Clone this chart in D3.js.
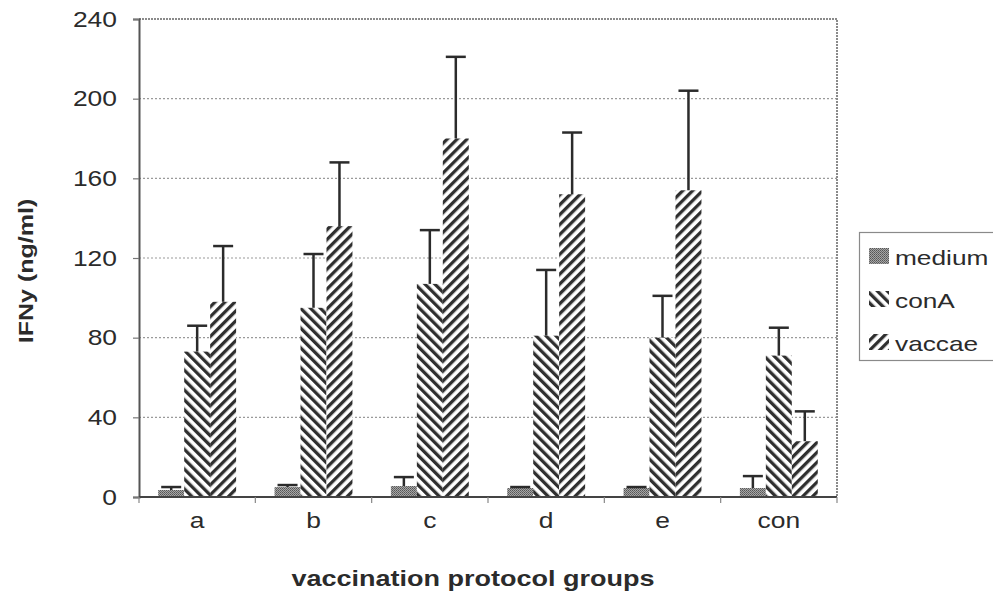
<!DOCTYPE html>
<html>
<head>
<meta charset="utf-8">
<script src="https://cdn.jsdelivr.net/npm/d3@7"></script>
<style>
  html, body { margin: 0; padding: 0; background: #fff; }
  svg { display: block; font-family: "Liberation Sans", Arial, Helvetica, sans-serif; }
</style>
</head>
<body>
<svg id="chart" width="993" height="595"></svg>
<script>
// IFN-gamma response per vaccination protocol group (mean + SD)
const groups = ["a", "b", "c", "d", "e", "con"];
const series = ["medium", "conA", "vaccae"];
const medium    = [3.5, 5, 5.5, 4.5, 4.5, 4.5];
const mediumErr = [1.5, 1, 4.5, 0.5, 0.5, 6];
const conA      = [73, 95, 107, 81, 80, 71];
const conAErr   = [13, 27, 27, 33, 21, 14];
const vaccae    = [98, 136, 180, 152, 154, 28];
const vaccaeErr = [28, 32, 41, 31, 50, 15];
const yTicks = [0, 40, 80, 120, 160, 200, 240];

const values = { medium, conA, vaccae };
const errors = { medium: mediumErr, conA: conAErr, vaccae: vaccaeErr };

const rows = groups.flatMap((g, i) =>
  series.map(s => ({ group: g, series: s, value: values[s][i], err: errors[s][i] })));

const svg = d3.select("#chart");
const plot = { left: 139, right: 837, top: 19, bottom: 497 };
const ink = "#2b2b2b";

// widen glyphs horizontally by a factor (the typeface is broader than Liberation Sans)
function widen(sel, factor) {
  sel.each(function () {
    const w = this.getComputedTextLength();
    d3.select(this).attr("textLength", w * factor).attr("lengthAdjust", "spacingAndGlyphs");
  });
}

// Fill patterns
const defs = svg.append("defs");
const pm = defs.append("pattern").attr("id", "pat-medium")
  .attr("patternUnits", "userSpaceOnUse").attr("width", 2).attr("height", 2);
pm.append("rect").attr("width", 2).attr("height", 2).attr("fill", "#a6a6a6");
pm.append("rect").attr("width", 1).attr("height", 1).attr("fill", "#555");
pm.append("rect").attr("x", 1).attr("y", 1).attr("width", 1).attr("height", 1).attr("fill", "#6a6a6a");

function stripes(id, dir) {
  const p = defs.append("pattern").attr("id", id)
    .attr("patternUnits", "userSpaceOnUse").attr("width", 7).attr("height", 7)
    .attr("patternTransform", `rotate(${dir})`);
  p.append("rect").attr("width", 7).attr("height", 7).attr("fill", "#fff");
  p.append("rect").attr("x", 0).attr("y", 0).attr("width", 3.3).attr("height", 7).attr("fill", "#2f2f2f");
}
stripes("pat-conA", -45);
stripes("pat-vaccae", 45);
const fills = { medium: "url(#pat-medium)", conA: "url(#pat-conA)", vaccae: "url(#pat-vaccae)" };

// Scales
const x0 = d3.scaleBand().domain(groups).range([plot.left, plot.right]).paddingInner(0).paddingOuter(0);
const x1 = d3.scaleBand().domain(series).range([0, x0.bandwidth()]).paddingInner(0).paddingOuter(0.74);
const y = d3.scaleLinear().domain([0, 240]).range([plot.bottom, plot.top]);

// Gridlines
svg.append("g").selectAll("line")
  .data(yTicks.filter(t => t > 0 && t < 240)).join("line")
  .attr("x1", plot.left).attr("x2", plot.right)
  .attr("y1", d => y(d)).attr("y2", d => y(d))
  .attr("stroke", "#9a9a9a").attr("stroke-width", 1.2).attr("stroke-dasharray", "2,2");

// Plot frame (top and right)
svg.append("path")
  .attr("d", `M${plot.left},${plot.top}H${plot.right}V${plot.bottom}`)
  .attr("fill", "none").attr("stroke", "#8a8a8a").attr("stroke-width", 2).attr("stroke-dasharray", "2,1");

// Bars
svg.append("g").selectAll("rect").data(rows).join("rect")
  .attr("x", d => x0(d.group) + x1(d.series))
  .attr("width", x1.bandwidth())
  .attr("y", d => y(d.value))
  .attr("height", d => y(0) - y(d.value))
  .attr("fill", d => fills[d.series]);

// Error bars (upper only)
const eb = svg.append("g").attr("stroke", ink).attr("stroke-width", 2.5);
eb.selectAll("line.v").data(rows).join("line").attr("class", "v")
  .attr("x1", d => x0(d.group) + x1(d.series) + x1.bandwidth() / 2)
  .attr("x2", d => x0(d.group) + x1(d.series) + x1.bandwidth() / 2)
  .attr("y1", d => y(d.value)).attr("y2", d => y(d.value + d.err));
eb.selectAll("line.c").data(rows).join("line").attr("class", "c")
  .attr("x1", d => x0(d.group) + x1(d.series) + x1.bandwidth() / 2 - 10)
  .attr("x2", d => x0(d.group) + x1(d.series) + x1.bandwidth() / 2 + 10)
  .attr("y1", d => y(d.value + d.err)).attr("y2", d => y(d.value + d.err));

// Y axis
const yAxis = svg.append("g").attr("transform", `translate(${plot.left},0)`)
  .call(d3.axisLeft(y).tickValues(yTicks).tickSize(6).tickPadding(16).tickFormat(d3.format("d")));
yAxis.select(".domain").attr("stroke", "#555").attr("stroke-width", 2);
yAxis.selectAll(".tick line").attr("stroke", "#777").attr("stroke-width", 1.2);
yAxis.selectAll(".tick text").attr("font-size", 22).attr("fill", ink)
  .attr("font-family", "'Liberation Sans', Arial, sans-serif")
  .call(widen, 1.2);

// X axis with boundary ticks between groups
const xAxis = svg.append("g").attr("transform", `translate(0,${plot.bottom})`);
xAxis.append("line").attr("x1", plot.left).attr("x2", plot.right)
  .attr("stroke", "#444").attr("stroke-width", 2);
const bounds = groups.map(g => x0(g)).concat([plot.right]);
xAxis.selectAll("line.t").data(bounds).join("line").attr("class", "t")
  .attr("x1", d => d).attr("x2", d => d).attr("y1", 0).attr("y2", 6)
  .attr("stroke", "#888").attr("stroke-width", 1.2);
xAxis.selectAll("text").data(groups).join("text")
  .attr("x", d => x0(d) + x0.bandwidth() / 2).attr("y", 31)
  .attr("text-anchor", "middle").attr("font-size", 22).attr("fill", ink)
  .text(d => d)
  .call(widen, 1.2);

// Axis titles
svg.append("text").attr("x", 473).attr("y", 586)
  .attr("text-anchor", "middle").attr("font-size", 22.5).attr("font-weight", "bold").attr("fill", ink)
  .text("vaccination protocol groups")
  .call(widen, 1.2);
svg.append("text").attr("transform", `translate(33,271) rotate(-90)`)
  .attr("text-anchor", "middle").attr("font-size", 20).attr("font-weight", "bold").attr("fill", ink)
  .text("IFNy (ng/ml)")
  .call(widen, 1.25);

// Legend
const lg = svg.append("g");
lg.append("rect").attr("x", 859.5).attr("y", 232.5).attr("width", 140).attr("height", 128)
  .attr("fill", "#fff").attr("stroke", "#8a8a8a").attr("stroke-width", 1.2);
const ly = d3.scalePoint().domain(series).range([256, 342]);
lg.selectAll("rect.s").data(series).join("rect").attr("class", "s")
  .attr("x", 869).attr("y", d => ly(d) - 8).attr("width", 20).attr("height", 16)
  .attr("fill", d => fills[d]);
lg.selectAll("text").data(series).join("text")
  .attr("x", 895).attr("y", d => ly(d) + 8.5)
  .attr("font-size", 21).attr("fill", ink).text(d => d)
  .call(widen, 1.25);
</script>
</body>
</html>
